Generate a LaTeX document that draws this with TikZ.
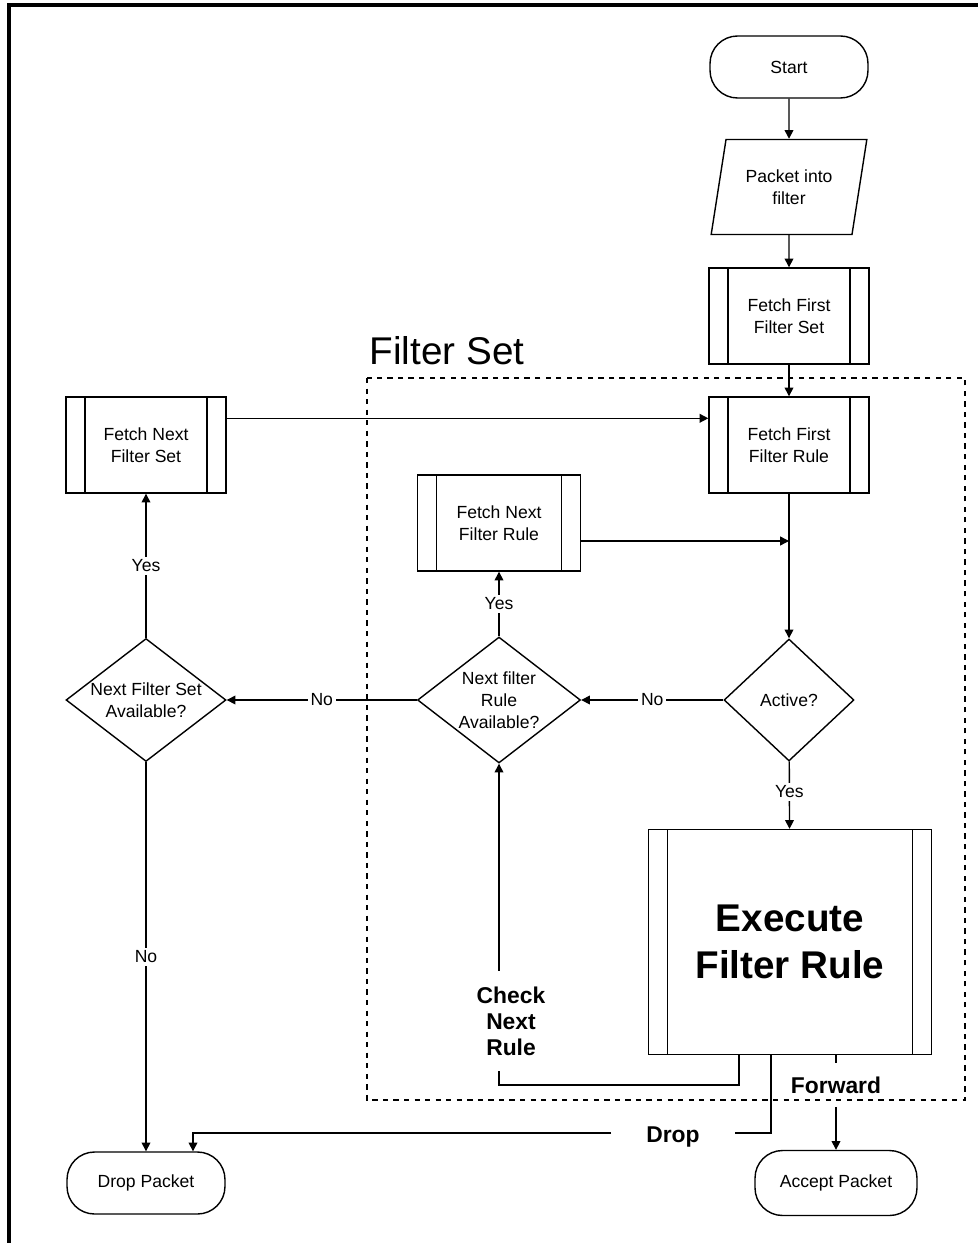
\documentclass[tikz,border=0pt]{standalone}
\usepackage{fontspec}
\setmainfont{Liberation Sans}
\usetikzlibrary{shapes.geometric,arrows.meta}

\begin{document}
\begin{tikzpicture}[x=0.02cm,y=-0.02cm,>={Triangle[length=5pt,width=5pt]},
    every node/.style={font=\fontsize{10}{12.5}\selectfont,align=center},
    term/.style={draw,thick,rounded corners=0.55cm,minimum width=3.16cm,minimum height=1.24cm},
    io/.style={draw,thick,trapezium,trapezium left angle=76,trapezium right angle=104,trapezium stretches=true,minimum width=3.12cm,minimum height=1.9cm},
    proc/.style={draw,thick,minimum width=3.2cm,minimum height=1.92cm,
      path picture={\draw[thick] ([xshift=0.38cm]path picture bounding box.north west) -- ([xshift=0.38cm]path picture bounding box.south west)
        ([xshift=-0.38cm]path picture bounding box.north east) -- ([xshift=-0.38cm]path picture bounding box.south east);}},
    dec/.style={draw,thick,diamond,aspect=1.3,inner sep=0pt,minimum width=3.2cm,minimum height=2.46cm},
    lbl/.style={fill=white,inner sep=1.5pt},
    big/.style={font=\fontsize{13}{14.7}\selectfont\bfseries}
  ]
    \useasboundingbox (0,0) rectangle (978,1243);
    \draw[line width=2pt] (9,1243) |- (978,5);
    \draw[thick,dashed] (367,378) rectangle (965,1100);
    \node[font=\fontsize{22}{26}\selectfont] (setlabel) at (447,351) {Filter Set};

    \node[term] (start) at (789,67) {Start};
    \node[io] (packet) at (789,187) {Packet into\\filter};
    \node[proc] (ffs) at (789,316) {Fetch First\\Filter Set};
    \node[proc] (ffr) at (789,445) {Fetch First\\Filter Rule};
    \node[proc] (fns) at (146,445) {Fetch Next\\Filter Set};
    \node[proc,minimum width=3.26cm] (fnr) at (499,523) {Fetch Next\\Filter Rule};
    \node[dec,aspect=1,minimum width=2.6cm,minimum height=2.44cm] (active) at (789,700) {Active?};
    \node[dec,minimum width=3.26cm,minimum height=2.52cm] (nra) at (499,700) {Next filter\\Rule\\Available?};
    \node[dec] (nsa) at (146,700) {Next Filter Set\\Available?};
    \node[proc,minimum width=5.66cm,minimum height=4.5cm,font=\fontsize{22}{26.6}\selectfont\bfseries] (exe) at (790,942) {Execute\\Filter Rule};
    \node[term] (drop) at (146,1183) {Drop Packet};
    \node[term,minimum width=3.24cm,minimum height=1.3cm] (accept) at (836,1183) {Accept Packet};
    \node[big,inner ysep=0.31cm] (check) at (511,1021) {Check\\Next\\Rule};
    \node[big,minimum width=2.46cm,text height=14pt,text depth=3pt] (dropl) at (673,1133) {Drop};
    \node[big,inner ysep=0.27cm] (fwd) at (836,1085) {Forward};

    \draw[thick,->] (start) -- (packet);
    \draw[thick,->] (packet) -- (ffs);
    \draw[thick,->] (ffs) -- (ffr);
    \draw[thick,->] ([yshift=-0.44cm]fns.north east) -- ([yshift=-0.44cm]fns.north east -| ffr.west);
    \draw[thick,->] (ffr) -- (active);
    \draw[thick,->] ([yshift=-0.36cm]fnr.east) -- ([yshift=-0.36cm]fnr.east -| ffr.south);
    \draw[thick,->] (active) -- node[lbl] {No} (nra);
    \draw[thick,->] (nra) -- node[lbl] {Yes} (fnr);
    \draw[thick,->] (nra) -- node[lbl] {No} (nsa);
    \draw[thick,->] (nsa) -- node[lbl] {Yes} (fns);
    \draw[thick,->] (nsa) -- node[lbl] {No} (drop);
    \draw[thick,->] (active) -- node[lbl,pos=0.45] {Yes} (exe);
    \draw[thick] ([xshift=-1.02cm]exe.south) -- ++(0,30) -| (check.south -| nra.south);
    \draw[thick,->] (check.north -| nra.south) -- (nra);
    \draw[thick] ([xshift=-0.38cm]exe.south) |- (dropl.east);
    \draw[thick,->] (dropl.west) -| ([xshift=0.94cm]drop.north);
    \draw[thick] (exe.south -| fwd.north) -- (fwd.north);
    \draw[thick,->] (fwd) -- (accept);
  \end{tikzpicture}
\end{document}
